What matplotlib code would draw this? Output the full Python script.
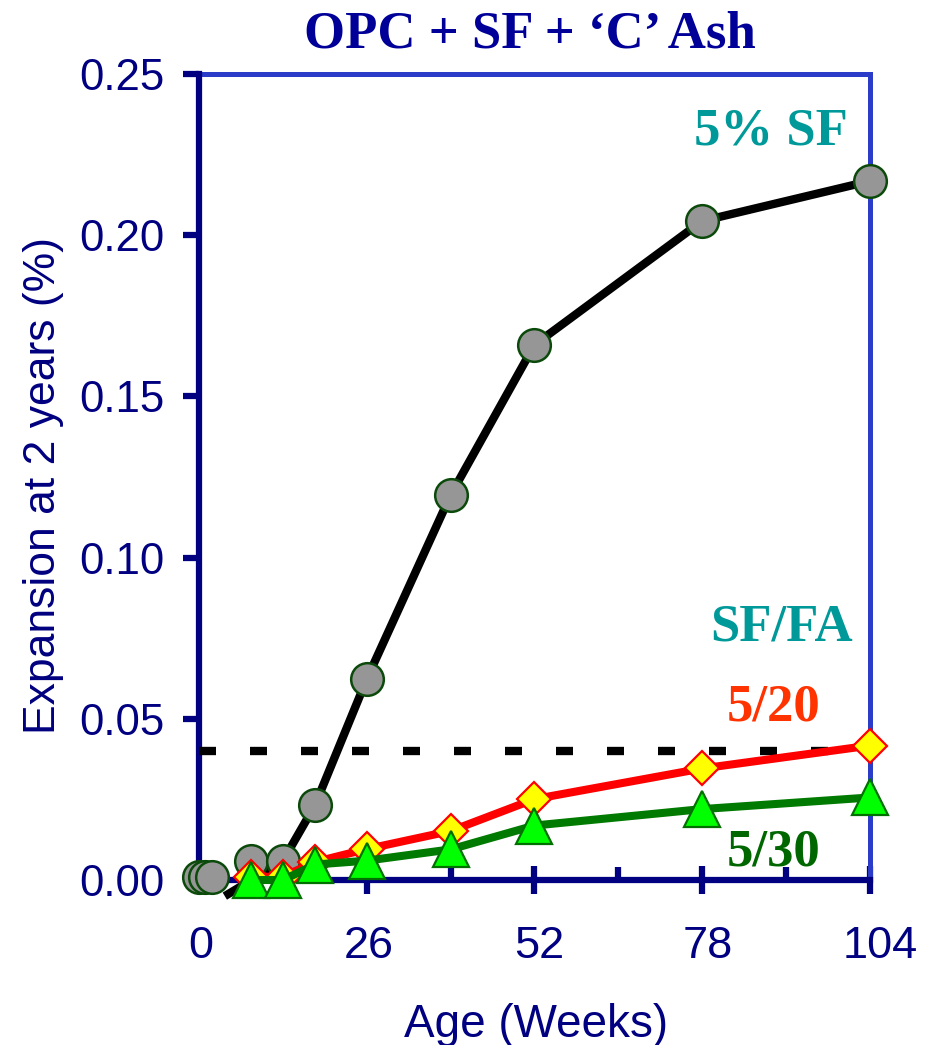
import matplotlib
matplotlib.use("Agg")
import matplotlib.pyplot as plt
from matplotlib.transforms import ScaledTranslation

# ---- data -------------------------------------------------------------
# 5% SF (circles), measured points
sf_weeks = [0, 1, 2, 8, 13, 18, 26, 39, 52, 78, 104]
sf_expansion = [0.0008, 0.0008, 0.001, 0.0059, 0.0059, 0.0233, 0.0623,
                0.1194, 0.166, 0.2044, 0.2168]
# 5% SF connecting line
sf_line_weeks = [4, 13, 18, 26, 39, 52, 78, 104]
sf_line_expansion = [-0.005, 0.0059, 0.0233, 0.0623, 0.1194, 0.166,
                     0.2044, 0.2168]

# SF/FA 5/20 (diamonds)
mix20_weeks = [8, 13, 18, 26, 39, 52, 78, 104]
mix20_expansion = [0.001, 0.001, 0.0056, 0.0096, 0.0152, 0.0251, 0.0346,
                   0.0417]

# SF/FA 5/30 (triangles)
mix30_weeks = [8, 13, 18, 26, 39, 52, 78, 104]
mix30_expansion = [0.0, 0.0, 0.0048, 0.006, 0.0095, 0.0169, 0.022, 0.0256]

# expansion limit
limit_value = 0.04
limit_weeks = [0, 98.4]

x_ticks = [0, 26, 52, 78, 104]
x_minor_ticks = [13, 39, 65, 91]
y_ticks = [0.0, 0.05, 0.10, 0.15, 0.20, 0.25]
y_tick_labels = ["0.00", "0.05", "0.10", "0.15", "0.20", "0.25"]

# ---- styling ----------------------------------------------------------
navy = "#000080"
blue = "#2B3CC8"
sans = "Liberation Sans"
serif = "Liberation Serif"

fig = plt.figure(figsize=(9.28, 10.45), dpi=100)
ax = fig.add_axes([199 / 928, 165 / 1045, 671 / 928, 806 / 1045])

ax.set_xlim(0, 104)
ax.set_ylim(0, 0.25)

# expansion limit line
ax.plot(limit_weeks, [limit_value, limit_value], color="black", lw=6,
        linestyle=(0, (2.04, 4.08)), dash_capstyle="butt", zorder=3,
        clip_on=False)

# 5% SF
ax.plot(sf_line_weeks, sf_line_expansion, color="black", lw=6,
        solid_capstyle="butt", zorder=3, clip_on=False)
ax.plot(sf_weeks, sf_expansion, linestyle="none", marker="o", ms=23.5,
        mfc="#969696", mec="#0B4A0B", mew=1.8, zorder=4, clip_on=False)

# 5/20
ax.plot(mix20_weeks, mix20_expansion, color="#FF0000", lw=5.8,
        marker="D", ms=17.5, mfc="#FFFF00", mec="#FF0000", mew=1.6,
        zorder=5, clip_on=False)

# 5/30
ax.plot(mix30_weeks, mix30_expansion, color="#007A00", lw=5.8,
        marker="^", ms=26.5, mfc="#00FF00", mec="#007000", mew=1.6,
        zorder=6, clip_on=False)

# spines
for side in ("left", "bottom"):
    ax.spines[side].set_color(navy)
    ax.spines[side].set_linewidth(4.5)
for side in ("top", "right"):
    ax.spines[side].set_color(blue)
    ax.spines[side].set_linewidth(3.6)
ax.spines["left"].set_zorder(2.6)
ax.spines["bottom"].set_zorder(2.6)

# ticks
ax.set_xticks(x_ticks)
ax.set_xticks(x_minor_ticks, minor=True)
ax.set_xticklabels([str(t) for t in x_ticks])
ax.set_yticks(y_ticks)
ax.set_yticklabels(y_tick_labels)

ax.tick_params(axis="x", which="major", direction="inout", length=20,
               width=4.5, color=navy, pad=23, labelsize=32.5,
               labelcolor=navy)
ax.tick_params(axis="x", which="minor", direction="in", length=9.5,
               width=4.5, color=navy)
ax.tick_params(axis="y", which="major", direction="out", length=11.5,
               width=4.5, color=navy, pad=13, labelsize=31.5,
               labelcolor=navy)
for lab in ax.get_xticklabels() + ax.get_yticklabels():
    lab.set_fontfamily(sans)

# the week labels sit slightly right of their ticks, more so further right
x_label_shifts = [2, 2, 5, 6, 10]
for lab, dx in zip(ax.get_xticklabels(), x_label_shifts):
    lab.set_transform(lab.get_transform()
                      + ScaledTranslation(dx / 100, 0, fig.dpi_scale_trans))

# axis labels
ax.set_xlabel("Age (Weeks)", fontsize=33, color=navy, fontfamily=sans)
ax.xaxis.set_label_coords(0.503, -0.1526)
ax.set_ylabel("Expansion at 2 years (%)", fontsize=32, color=navy,
              fontfamily=sans)
ax.yaxis.set_label_coords(-0.201, 0.49)

# title
fig.text(530 / 928, 1 - 47 / 1045, "OPC + SF + \u2018C\u2019 Ash",
         ha="center", va="baseline", fontsize=38, fontweight="bold",
         color="#000099", fontfamily=serif)

# series annotations
ax.text(100.6, 0.228, "5% SF", ha="right", va="baseline", fontsize=38,
        fontweight="bold", color="#009999", fontfamily=serif)
ax.text(101.4, 0.0744, "SF/FA", ha="right", va="baseline", fontsize=38,
        fontweight="bold", color="#009999", fontfamily=serif)
ax.text(96.25, 0.0496, "5/20", ha="right", va="baseline", fontsize=38,
        fontweight="bold", color="#FF3300", fontfamily=serif)
ax.text(96.25, 0.00465, "5/30", ha="right", va="baseline", fontsize=38,
        fontweight="bold", color="#006600", fontfamily=serif)

fig.savefig("out.png", dpi=100)
